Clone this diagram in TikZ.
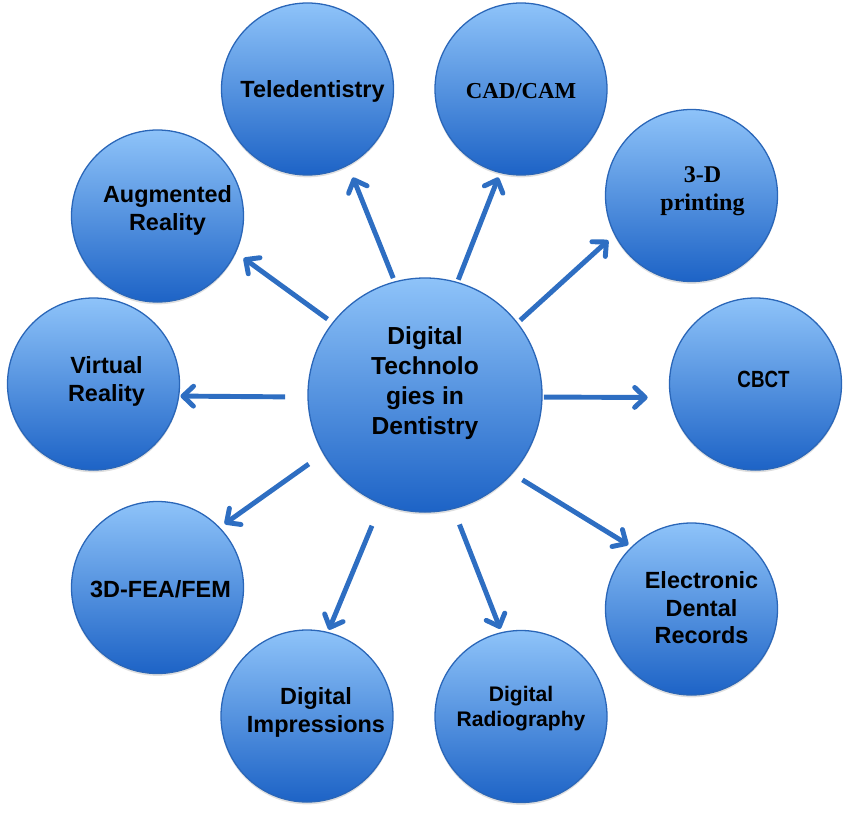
\documentclass[tikz,border=0pt]{standalone}
\usepackage{fontspec}
\setmainfont{Liberation Sans}
\newfontfamily\camfont{Liberation Serif}
\usetikzlibrary{arrows.meta,shadows}
\definecolor{bubtop}{HTML}{8EC3F9}
\definecolor{bubmid}{HTML}{4C8FE0}
\definecolor{bubbot}{HTML}{1D63C6}
\definecolor{bubedge}{HTML}{2A66B8}
\definecolor{spokeblue}{HTML}{2E6EC2}

\begin{document}
\begin{tikzpicture}[x=0.03cm,y=-0.03cm,
   bubble/.style={circle,draw=bubedge,line width=1.1pt,minimum size=5.16cm,inner sep=0pt,
      top color=bubtop,middle color=bubmid,bottom color=bubbot,
      drop shadow={shadow xshift=0pt,shadow yshift=-2pt,opacity=0.25}},
   hubbub/.style={bubble,minimum size=7.02cm},
   txt/.style={align=center,text=black,font=\bfseries\fontsize{20}{24}\selectfont},
   spoke/.style={draw=spokeblue,line width=4.2pt,-{Straight Barb[length=9pt,width=17pt,round]}}]
   \useasboundingbox (0,0) rectangle (850,815);
   % centre
   \node[hubbub,label={[txt,font=\bfseries\fontsize{21}{25.5}\selectfont,shift={(0,-12)}]center:{Digital\\Technolo\\gies in\\Dentistry}}] (hub) at (425,395) {};
   % outer ring
   \node[bubble,label={[txt,shift={(5,2)}]center:Teledentistry}] (tele) at (307.5,89) {};
   \node[bubble,label={[txt,font=\camfont\bfseries\fontsize{19.5}{23}\selectfont,shift={(0,2)}]center:CAD/CAM}] (cad) at (521,89) {};
   \node[bubble,label={[txt,font=\camfont\bfseries\fontsize{20.5}{24}\selectfont,shift={(11,-4)}]center:{3-D\\printing}}] (print) at (691.5,195.5) {};
   \node[bubble,label={[txt,shift={(8,-5)}]center:\scalebox{0.8}[1]{CBCT}}] (cbct) at (755.5,384) {};
   \node[bubble,label={[txt,font=\bfseries\fontsize{20}{23.5}\selectfont,shift={(10,-1)}]center:{Electronic\\Dental\\Records}}] (edr) at (691.5,609) {};
   \node[bubble,label={[txt,font=\bfseries\fontsize{18}{22}\selectfont,shift={(0,-8)}]center:{Digital\\Radiography}}] (radio) at (521,716.5) {};
   \node[bubble,label={[txt,shift={(9,-4)}]center:{Digital\\Impressions}}] (impr) at (307,716) {};
   \node[bubble,label={[txt,shift={(3,2)}]center:3D-FEA/FEM}] (fea) at (157.5,587.5) {};
   \node[bubble,label={[txt,shift={(13,-3)}]center:{Virtual\\Reality}}] (vr) at (93.5,384) {};
   \node[bubble,label={[txt,shift={(10,-6)}]center:{Augmented\\Reality}}] (ar) at (157.5,216) {};
   % spokes
   \draw[spoke,shorten <=3pt,shorten >=11pt] (hub.105.3) -- (tele.-62.7);
   \draw[spoke,shorten <=2pt,shorten >=4pt] (hub.74.4) -- (cad.-104.6);
   \draw[spoke,shorten <=3pt,shorten >=7pt] (hub.38.3) -- (print.-153.8);
   \draw[spoke,shorten <=1pt,shorten >=19pt] (hub.-1) -- (cbct.-171.3);
   \draw[spoke,shorten <=10pt,shorten >=3pt] (hub.-42.5) -- (edr.134.8);
   \draw[spoke,shorten <=14pt,shorten >=3pt] (hub.-76.2) -- (radio.103.6);
   \draw[spoke,shorten <=20pt,shorten >=2pt] (hub.-112.2) -- (impr.76.3);
   \draw[spoke,shorten <=15pt,shorten >=5pt] (hub.-150.8) -- (fea.44.6);
   \draw[spoke,shorten <=19pt,shorten >=1pt] (hub.-179) -- (vr.-8.5);
   \draw[spoke,shorten <=5pt,shorten >=8pt] (hub.142.3) -- (ar.-25.6);
\end{tikzpicture}
\end{document}
